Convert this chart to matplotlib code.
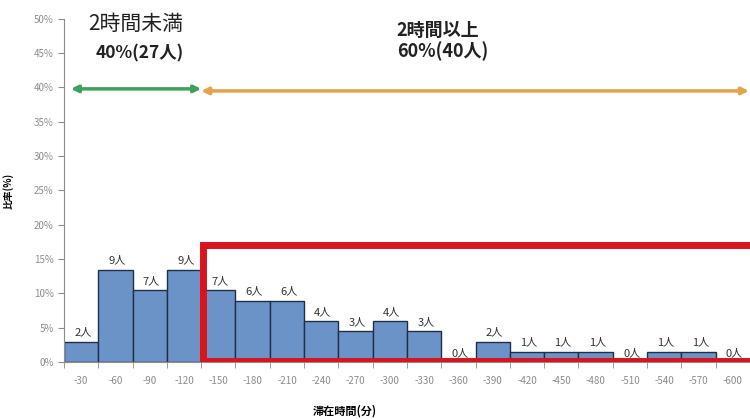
import matplotlib
matplotlib.use("Agg")
import matplotlib.pyplot as plt
import numpy as np
from matplotlib.patches import Rectangle

plt.rcParams['font.family'] = ['Noto Sans CJK JP', 'DejaVu Sans']

# 滞在時間の区分と人数
categories = ['-30', '-60', '-90', '-120', '-150', '-180', '-210', '-240', '-270', '-300',
              '-330', '-360', '-390', '-420', '-450', '-480', '-510', '-540', '-570', '-600']
counts = [2, 9, 7, 9, 7, 6, 6, 4, 3, 4, 3, 0, 2, 1, 1, 1, 0, 1, 1, 0]
yticks = [0, 5, 10, 15, 20, 25, 30, 35, 40, 45, 50]

total = sum(counts)
short_n = sum(counts[:4])
long_n = total - short_n
ratios = [c / total * 100 for c in counts]

gray = '#8c8c8c'
fig = plt.figure(figsize=(7.5, 4.19), dpi=100, facecolor='white')
ax = fig.add_axes([0.0853, 0.136, 0.9147, 0.819])

x = np.arange(len(categories))
ax.bar(x, ratios, width=1.0, color='#6b93c7', edgecolor='#1f2f4a', linewidth=1.0, zorder=2)

for xi, r, c in zip(x, ratios, counts):
    ax.text(xi + 0.05, r + 0.6, f'{c}人', ha='center', va='bottom', fontsize=8,
            color='#333333', zorder=4)

ax.set_xlim(-0.5, 19.5)
ax.set_ylim(0, 50)
ax.set_yticks(yticks)
ax.set_yticklabels([f'{v}%' for v in yticks], fontsize=7, color=gray)
ax.set_xticks(x)
ax.set_xticklabels(categories, fontsize=7, color=gray)
ax.set_xticks(np.arange(-0.5, len(categories)), minor=True)
ax.tick_params(axis='x', which='major', length=0, pad=10)
ax.tick_params(axis='x', which='minor', length=4, color=gray)
ax.tick_params(axis='y', length=4, color=gray)
for s in ['top', 'right']:
    ax.spines[s].set_visible(False)
for s in ['left', 'bottom']:
    ax.spines[s].set_color(gray)

ax.set_ylabel('比率(%)', fontsize=7, fontweight='bold')
ax.yaxis.set_label_coords(-0.074, 0.5)
ax.set_xlabel('滞在時間(分)', fontsize=8, fontweight='bold')
ax.xaxis.set_label_coords(0.41, -0.125)

# 2時間以上を囲む赤枠
ax.add_patch(Rectangle((3.55, 0.1), 16.0, 17.0, fill=False, edgecolor='#d9141c',
                       linewidth=5, zorder=5, clip_on=True))

# 矢印
ax.annotate('', xy=(-0.3, 39.8), xytext=(3.5, 39.8), annotation_clip=False,
            arrowprops=dict(arrowstyle='<|-|>', color='#3ea35a', lw=2.5,
                            mutation_scale=10, shrinkA=0, shrinkB=0))
ax.annotate('', xy=(3.5, 39.5), xytext=(19.47, 39.5), annotation_clip=False,
            arrowprops=dict(arrowstyle='<|-|>', color='#e8a24a', lw=2.5,
                            mutation_scale=10, shrinkA=0, shrinkB=0))

ax.text(1.6, 49.3, '2時間未満', ha='center', va='center', fontsize=15, color='#222222')
ax.text(1.7, 45.0, f'{round(short_n / total * 100)}%({short_n}人)', ha='center',
        va='center', fontsize=12.5, fontweight='bold', color='#222222')
ax.text(9.2, 48.3, '2時間以上', ha='left', va='center', fontsize=13,
        fontweight='bold', color='#222222')
ax.text(9.2, 45.3, f'{round(long_n / total * 100)}%({long_n}人)', ha='left',
        va='center', fontsize=13, fontweight='bold', color='#222222')

fig.savefig('out.png', dpi=100)
